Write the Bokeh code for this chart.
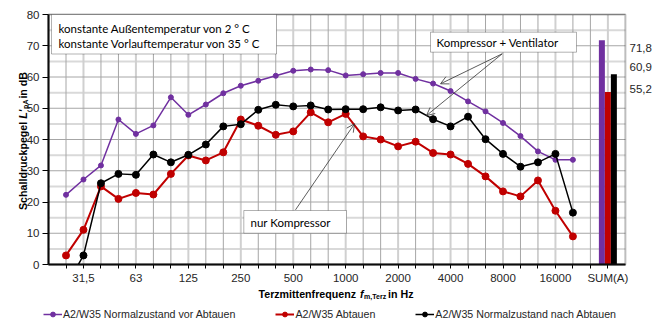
import math
from bokeh.plotting import figure
from bokeh.models import (FixedTicker, Legend, LegendItem, Label, Arrow, OpenHead,
                          BoxAnnotation)
from bokeh.embed import file_html
from bokeh.resources import INLINE

# ---------------- data ----------------
bands = ["25", "31,5", "40", "50", "63", "80", "100", "125", "160", "200",
         "250", "315", "400", "500", "630", "800", "1000", "1250", "1600", "2000",
         "2500", "3150", "4000", "5000", "6300", "8000", "10000", "12500", "16000", "20000"]
sum_label = "SUM(A)"

vor_abtauen = [22.3, 27.2, 31.7, 46.4, 41.8, 44.5, 53.5, 47.9, 51.2, 54.8,
               57.2, 58.8, 60.4, 62.0, 62.4, 62.2, 60.5, 60.9, 61.3, 61.3,
               59.4, 57.9, 55.5, 52.2, 49.0, 45.3, 41.1, 36.2, 33.5, 33.5]
abtauen = [2.9, 11.1, 25.0, 21.0, 22.9, 22.4, 29.0, 34.9, 33.3, 35.9,
           46.4, 44.4, 41.5, 42.6, 48.7, 45.5, 48.2, 41.0, 40.0, 37.8,
           39.3, 35.7, 35.2, 32.2, 28.2, 23.4, 21.8, 26.9, 17.2, 9.0]
nach_abtauen = [-7.0, 2.9, 26.0, 29.0, 28.7, 35.2, 32.7, 35.1, 38.4, 44.2,
                44.9, 49.5, 51.1, 50.6, 50.9, 49.6, 49.7, 49.7, 50.3, 49.3,
                49.6, 46.5, 44.2, 47.3, 40.1, 35.4, 31.3, 32.7, 35.4, 16.6]
sum_values = [71.8, 55.2, 60.9]  # vor Abtauen, Abtauen, nach Abtauen
sum_texts = ["71,8", "60,9", "55,2"]
series_names = ["A2/W35 Normalzustand vor Abtauen", "A2/W35 Abtauen",
                "A2/W35 Normalzustand nach Abtauen"]
colors = ["#7030A0", "#C00000", "#000000"]
y_ticks = [0, 10, 20, 30, 40, 50, 60, 70, 80]

# ---------------- layout helpers (page px -> data) ----------------
W, H = 666, 320
X0PX, XSTEP = 65.5, 17.48      # pixel of first band, pixels per band
Y0PX, YSTEP = 264.0, 3.125     # pixel of 0 dB, pixels per dB

def dx(px):
    return (px - X0PX) / XSTEP

def dy(py):
    return (Y0PX - py) / YSTEP

n = len(bands)
xs = list(range(n))
sum_pos = n + 1
x_lo, x_hi = -1, sum_pos + 1
y_lo, y_hi = y_ticks[0], y_ticks[-1]

p = figure(width=W, height=H, x_range=(dx(0), dx(W)), y_range=(dy(H), dy(0)),
           output_backend="svg", toolbar_location=None, min_border=0,
           background_fill_color="white", border_fill_color="white")
p.outline_line_color = None
p.xgrid.visible = False
p.ygrid.visible = False

# ---------------- grid lines (plot area only) ----------------
labeled = list(range(1, n, 3))
minor_y = [t + 5 for t in y_ticks[:-1]]
p.segment(x0=[x_lo] * len(minor_y), y0=minor_y, x1=[x_hi] * len(minor_y), y1=minor_y,
          line_color="#d9d9d9", line_width=2)
vlight = labeled + [sum_pos]
vdark = [t for t in xs + [n] if t not in labeled]
p.segment(x0=vlight, y0=[y_lo] * len(vlight), x1=vlight, y1=[y_hi] * len(vlight),
          line_color="#d0d0d0", line_width=2)
p.segment(x0=vdark, y0=[y_lo] * len(vdark), x1=vdark, y1=[y_hi] * len(vdark),
          line_color="#a6a6a6", line_width=1)
p.segment(x0=[x_lo] * len(y_ticks), y0=y_ticks, x1=[x_hi] * len(y_ticks), y1=y_ticks,
          line_color="#a6a6a6", line_width=1)

# ---------------- sum bars ----------------
bw = 0.343
bar_x = [sum_pos - bw, sum_pos, sum_pos + bw]
p.vbar(x=bar_x, top=sum_values, bottom=0, width=bw, fill_color=colors, line_color=None)

# ---------------- series ----------------
items = []
for ys, col, name, lw, ms in zip([vor_abtauen, abtauen, nach_abtauen], colors, series_names,
                                 [1.5, 2, 1.5], [5, 7, 7]):
    l = p.line(xs, ys, line_color=col, line_width=lw)
    s = p.scatter(xs, ys, marker="circle", size=ms, fill_color=col, line_color=col)
    items.append(LegendItem(label=name, renderers=[l, s]))

# clip everything below 0 dB (emulates the plot-area clipping)
p.quad(left=x_lo, right=x_hi, top=y_lo, bottom=dy(H), fill_color="white", line_color=None)

# plot area border
p.add_layout(BoxAnnotation(left=x_lo, right=x_hi, bottom=y_lo, top=y_hi, fill_alpha=0,
                           line_color="#262626", line_width=2, level="guide"))

# ---------------- axes (at plot-area edges) ----------------
p.yaxis.fixed_location = x_lo
p.yaxis.bounds = (y_lo, y_hi)
p.yaxis.ticker = FixedTicker(ticks=y_ticks)
p.yaxis.axis_line_width = 2
p.yaxis.axis_line_color = "black"
p.yaxis.major_tick_out = 6
p.yaxis.major_tick_in = 0
p.yaxis.minor_tick_line_color = None
p.yaxis.major_label_text_font = "Liberation Sans"
p.yaxis.major_label_text_font_size = "11.5px"
p.yaxis.major_label_text_color = "#262626"
p.yaxis.major_label_standoff = 3

all_ticks = xs + [n, sum_pos]
overrides = {t: "" for t in all_ticks}
for t in labeled:
    overrides[t] = bands[t]
overrides[sum_pos] = sum_label
p.xaxis.fixed_location = y_lo
p.xaxis.bounds = (x_lo, x_hi)
p.xaxis.ticker = FixedTicker(ticks=all_ticks)
p.xaxis.major_label_overrides = overrides
p.xaxis.axis_line_width = 2
p.xaxis.axis_line_color = "black"
p.xaxis.major_tick_out = 4
p.xaxis.major_tick_in = 0
p.xaxis.minor_tick_line_color = None
p.xaxis.major_label_text_font = "Liberation Sans"
p.xaxis.major_label_text_font_size = "11.5px"
p.xaxis.major_label_text_color = "#262626"
p.xaxis.major_label_standoff = 3

# ---------------- legend ----------------
legend = Legend(items=items, orientation="horizontal", location=(43, 0),
                glyph_width=19, glyph_height=12, label_standoff=1, spacing=40,
                padding=0, margin=0, border_line_color=None, background_fill_alpha=0,
                label_text_font="Liberation Sans", label_text_font_size="10.67px",
                label_text_color="#262626", label_height=12)
p.add_layout(legend)

# ---------------- sum value labels ----------------
for txt, py in zip(sum_texts, [47, 66, 88]):
    p.add_layout(Label(x=dx(629), y=dy(py), text=txt, text_align="left", text_baseline="middle",
                       text_font="Liberation Sans", text_font_size="11.5px", text_color="#262626"))

# ---------------- axis titles (composed) ----------------
xt = [("Terzmittenfrequenz ", "bold", "10.67px", 0),
      ("f", "bold italic", "10.67px", 0),
      ("m,Terz", "bold", "7px", 3),
      (" in Hz", "bold", "10.67px", 0)]
widths = [101.4, 4.2, 24.0, 28.5]
x0 = 258
for (txt, style, fs, off), w in zip(xt, widths):
    p.add_layout(Label(x=dx(x0), y=dy(293 + off), text=txt, text_align="left", text_baseline="middle",
                       text_font="Liberation Sans", text_font_style=style, text_font_size=fs,
                       text_color="black"))
    x0 += w

yt = [("Schalldruckpegel ", "bold", "10.67px", 0),
      ("L'", "bold italic", "10.67px", 0),
      ("pA", "bold", "7px", 3),
      (" in dB", "bold", "10.67px", 0)]
ywidths = [91.3, 9.8, 10.3, 29.6]
y0 = 209.5
for (txt, style, fs, off), w in zip(yt, ywidths):
    p.add_layout(Label(x=dx(22 + off), y=dy(y0), text=txt, angle=math.pi / 2, angle_units="rad",
                       text_align="left", text_baseline="middle",
                       text_font="Liberation Sans", text_font_style=style, text_font_size=fs,
                       text_color="black"))
    y0 -= w

# ---------------- annotation boxes ----------------
FS = "11.5px"
p.add_layout(BoxAnnotation(left=dx(51), right=dx(276), top=dy(14), bottom=dy(53.5),
                           fill_color="white", fill_alpha=1, line_color="black", line_width=1))
p.add_layout(Label(x=dx(58), y=dy(28), text="konstante Außentemperatur von 2 ° C",
                   text_align="left", text_baseline="middle", text_font="Lato",
                   text_font_size=FS, text_color="black"))
p.add_layout(Label(x=dx(58), y=dy(43), text="konstante Vorlauftemperatur von 35 ° C",
                   text_align="left", text_baseline="middle", text_font="Lato",
                   text_font_size=FS, text_color="black"))

p.add_layout(BoxAnnotation(left=dx(430), right=dx(576), top=dy(31.7), bottom=dy(51.7),
                           fill_color="white", fill_alpha=1, line_color="black", line_width=1))
p.add_layout(Label(x=dx(436), y=dy(41.7), text="Kompressor + Ventilator",
                   text_align="left", text_baseline="middle", text_font="Lato",
                   text_font_size=FS, text_color="black"))

p.add_layout(BoxAnnotation(left=dx(243.3), right=dx(346), top=dy(210), bottom=dy(232.7),
                           fill_color="white", fill_alpha=1, line_color="black", line_width=1))
p.add_layout(Label(x=dx(250), y=dy(222), text="nur Kompressor",
                   text_align="left", text_baseline="middle", text_font="Lato",
                   text_font_size=FS, text_color="black"))

# arrows
for (sx, sy, ex, ey) in [(501.7, 53.3, 440, 83.3), (501.7, 53.3, 426, 115), (295, 209.3, 354, 123.3)]:
    p.add_layout(Arrow(x_start=dx(sx), y_start=dy(sy), x_end=dx(ex), y_end=dy(ey),
                       line_color="#333333", line_width=0.8,
                       end=OpenHead(size=8, line_color="#333333", line_width=0.8)))

open("out.html", "w").write(file_html(p, INLINE))
